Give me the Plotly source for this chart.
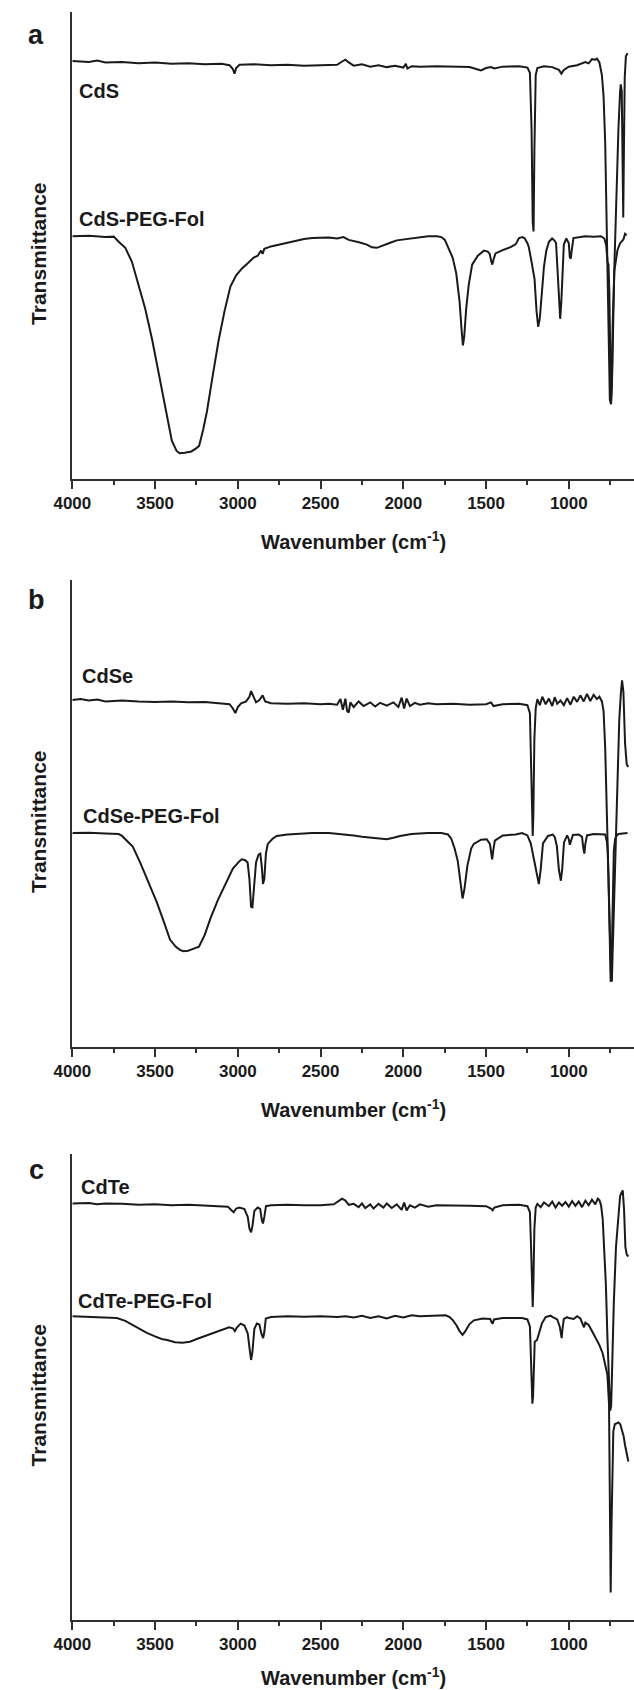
import plotly.graph_objects as go

W, H = 634, 1690

# ---------------- data (wavenumber cm-1, relative transmittance 0-100 within panel) ----------------
cds = [(4000,89.5),(3900,89.3),(3850,89.6),(3800,89.2),(3700,89.3),(3600,89.0),(3500,89.2),(3400,88.9),
       (3300,89.0),(3200,88.8),(3100,88.9),(3050,88.6),(3030,87.8),(3020,86.8),(3010,88.0),(2990,88.7),
       (2900,88.8),(2800,88.6),(2700,88.7),(2600,88.5),(2500,88.6),(2400,88.7),(2370,89.4),(2350,89.8),
       (2330,89.2),(2300,88.5),(2250,88.8),(2200,88.3),(2150,88.6),(2100,88.2),(2050,88.5),(2000,88.1),
       (1985,88.9),(1975,87.9),(1950,88.4),(1900,88.3),(1800,88.4),(1700,88.3),(1600,88.2),(1560,87.8),
       (1530,87.5),(1500,88.0),(1470,88.2),(1450,87.9),(1400,88.3),(1300,88.4),(1250,88.1),(1235,87.0),
       (1225,75),(1218,55),(1213,53),(1208,70),(1200,86.5),(1190,88.0),(1150,88.4),(1100,88.2),
       (1060,87.6),(1045,86.8),(1030,87.6),(1000,88.3),(950,88.6),(900,89.3),(880,89.0),(860,89.9),
       (840,89.8),(830,90.0),(815,89.2),(800,86.5),(790,82),(780,72),(770,50),(760,28),(752,17),
       (745,16),(738,22),(725,45),(710,65),(700,75),(690,83),(686,84.5),(680,83),(676,70),(671,56),
       (667,70),(662,86),(655,90.5),(645,91.2)]

cds_peg = [(4000,52.0),(3900,52.1),(3800,51.8),(3750,51.9),(3720,50.8),(3680,49.5),(3640,46.5),(3610,42.8),
       (3560,36.5),(3517,29.7),(3480,23.0),(3446,16.7),(3420,11.5),(3399,8.2),(3370,6.0),(3352,5.5),
       (3320,5.6),(3281,5.9),(3250,6.6),(3234,7.1),(3210,10.5),(3187,14.4),(3150,22.5),(3116,29.7),
       (3080,36.0),(3045,41.2),(3010,43.6),(2975,45.1),(2940,46.2),(2904,47.4),(2880,47.8),(2860,48.9),
       (2850,48.2),(2840,49.3),(2800,49.8),(2750,50.2),(2715,50.5),(2650,51.0),(2600,51.4),(2550,51.6),
       (2450,51.7),(2400,51.5),(2362,51.8),(2330,51.2),(2300,51.0),(2268,50.7),(2220,50.2),(2190,49.6),
       (2160,49.5),(2140,49.8),(2100,50.3),(2079,50.6),(2040,51.1),(2000,51.3),(1961,51.6),(1900,51.8),
       (1850,52.0),(1796,52.0),(1770,51.8),(1749,51.2),(1720,49.0),(1702,47.4),(1680,44),(1660,38),
       (1648,32),(1640,28.6),(1632,30.5),(1620,36.5),(1605,41.5),(1584,45.9),(1550,47.8),(1513,48.9),
       (1490,48.7),(1478,48.2),(1468,46.5),(1462,45.9),(1455,47.0),(1443,48.3),(1400,49.0),(1349,49.7),
       (1320,50.3),(1301,51.6),(1280,51.8),(1266,51.5),(1250,50.5),(1242,49.7),(1225,46.5),(1207,42.8),
       (1195,36),(1185,32.6),(1175,34.5),(1165,39.5),(1150,45.5),(1136,48.9),(1120,50.8),(1101,51.5),
       (1085,51.0),(1077,50.5),(1068,45),(1060,38),(1052,34.3),(1045,38),(1038,46),(1030,50.2),
       (1015,51.5),(1000,50.5),(994,47.5),(988,47.2),(982,49),(972,51.6),(930,51.8),(900,52.0),
       (850,51.9),(806,52.0),(785,51.5),(774,50.0),(766,46.5),(760,45.9),(755,40),(750,28),(745,16.1),
       (740,20),(735,33),(725,44.5),(715,47.5),(706,49.0),(690,50.5),(670,51.3),(660,52.5),(650,52.2)]

cdse = [(4000,74.3),(3950,74.5),(3900,74.2),(3850,74.4),(3800,74.0),(3700,74.2),(3600,74.0),(3500,73.9),
       (3400,74.0),(3300,73.8),(3200,73.9),(3100,73.6),(3050,73.4),(3030,72.5),(3015,71.5),(3000,72.8),
       (2980,73.6),(2950,74.0),(2930,75.0),(2920,76.2),(2905,74.8),(2890,73.8),(2870,74.3),(2850,75.3),
       (2835,74.0),(2800,73.6),(2700,73.5),(2600,73.6),(2500,73.4),(2450,73.5),(2400,73.3),(2380,74.5),
       (2365,72.2),(2350,74.6),(2340,72.0),(2330,71.6),(2320,73.8),(2300,72.8),(2270,74.0),(2240,73.0),
       (2200,73.8),(2170,72.9),(2140,73.7),(2100,73.1),(2060,73.8),(2030,72.8),(2010,74.8),(1995,72.5),
       (1980,74.6),(1960,73.0),(1930,73.7),(1900,73.3),(1850,73.6),(1800,73.4),(1700,73.5),(1600,73.3),
       (1500,73.4),(1470,73.8),(1455,73.0),(1400,73.4),(1300,73.5),(1250,73.2),(1235,71.5),(1228,62),
       (1222,48),(1218,45.2),(1214,50),(1208,66),(1200,72.5),(1190,74.5),(1175,73.2),(1160,75.0),
       (1140,73.4),(1120,74.6),(1100,73.0),(1085,74.9),(1070,73.5),(1050,74.2),(1030,73.2),(1010,74.7),
       (990,73.3),(970,75.0),(950,73.9),(930,75.3),(910,74.0),(890,75.6),(870,74.1),(850,75.4),
       (830,74.5),(815,75.0),(800,74.0),(790,72),(780,64),(770,50),(760,34),(752,22),(745,15),(740,14),
       (735,20),(725,35),(710,55),(695,70),(685,76),(678,78.5),(670,76),(660,65),(650,60.5),(640,60)]

cdse_peg = [(4000,45.8),(3900,45.9),(3800,45.7),(3720,45.6),(3700,45.2),(3670,44.2),(3635,42.9),(3590,39.5),
       (3541,35.2),(3490,31.0),(3447,26.8),(3410,23.0),(3376,21.5),(3350,20.8),(3329,20.5),(3300,20.6),
       (3270,21.0),(3235,21.5),(3200,24.0),(3165,27.6),(3120,31.5),(3071,35.2),(3030,38.2),(2990,39.8),
       (2976,40.2),(2955,40.0),(2941,39.5),(2930,36.0),(2920,30.0),(2912,29.9),(2905,33.5),(2890,39.5),
       (2875,41.2),(2864,41.4),(2855,38.5),(2848,34.9),(2840,36.0),(2830,41.5),(2819,43.5),(2790,44.6),
       (2765,45.2),(2700,45.5),(2600,45.7),(2553,45.8),(2450,45.8),(2350,45.5),(2300,45.3),(2250,45.0),
       (2200,44.8),(2150,44.6),(2100,44.5),(2060,44.8),(2020,45.2),(1950,45.6),(1850,45.8),(1770,45.8),
       (1730,45.5),(1710,44.6),(1690,42.5),(1671,39.8),(1655,35.5),(1642,31.8),(1630,34),(1613,38.8),
       (1590,42.5),(1574,43.5),(1530,44.4),(1496,44.5),(1477,43.5),(1468,41.5),(1463,40.2),(1455,42.5),
       (1447,44.2),(1399,45.3),(1321,45.5),(1282,45.8),(1250,45.3),(1230,43.6),(1215,41.0),(1204,38.5),
       (1190,36),(1181,34.9),(1170,38),(1156,43.6),(1126,45.2),(1097,45.5),(1085,45.0),(1072,43),
       (1060,38),(1048,35.6),(1040,38),(1029,43.8),(1010,45.3),(1000,44.5),(994,43.3),(985,44.5),
       (975,45.4),(940,45.5),(920,45.0),(912,42.5),(906,41.4),(900,43.5),(890,45.3),(850,45.6),
       (800,45.6),(780,45.5),(770,44),(765,42),(760,36),(752,20),(747,14),(742,17),(735,33),(728,42),
       (720,44.6),(710,45.3),(700,45.6),(680,45.7),(660,45.8),(645,45.8)]

cdte = [(4000,89.4),(3900,89.5),(3850,89.2),(3800,89.4),(3700,89.3),(3600,89.1),(3500,89.2),(3400,89.0),
       (3300,89.1),(3200,89.0),(3100,88.9),(3060,88.7),(3040,88.0),(3025,87.5),(3010,88.3),(2990,88.5),
       (2960,88.2),(2940,86.5),(2930,84.0),(2920,83.2),(2912,84.5),(2900,87.8),(2880,88.5),(2865,88.2),
       (2855,85.8),(2848,85.1),(2840,86.5),(2830,88.8),(2800,89.0),(2700,89.1),(2600,89.0),(2500,89.0),
       (2420,89.2),(2390,90.0),(2370,90.4),(2350,90.0),(2330,89.1),(2300,89.3),(2270,88.6),(2250,89.4),
       (2230,88.4),(2200,89.2),(2180,88.3),(2150,89.3),(2120,88.5),(2100,89.4),(2070,88.4),(2040,89.2),
       (2010,88.0),(1995,89.6),(1980,87.9),(1960,89.0),(1930,88.5),(1900,89.2),(1850,88.7),(1800,89.0),
       (1700,89.0),(1600,88.9),(1500,88.8),(1470,88.3),(1460,87.9),(1450,88.5),(1400,89.0),(1300,89.1),
       (1250,88.8),(1235,87.5),(1228,80),(1222,70),(1218,67.2),(1214,72),(1208,84),(1200,88.5),
       (1190,89.3),(1170,88.6),(1150,89.6),(1120,88.8),(1100,89.8),(1080,88.5),(1060,89.6),(1040,88.9),
       (1020,89.7),(1000,88.7),(980,89.9),(960,88.9),(940,89.8),(920,88.6),(900,90.0),(880,89.0),
       (860,90.2),(840,89.2),(825,90.4),(815,90.1),(805,89.0),(795,86),(785,80),(776,72),(766,60),
       (758,50),(750,44.9),(744,46),(738,55),(728,68),(715,80),(700,88),(690,91),(680,91.8),(674,92.2),
       (666,88),(658,80),(650,78.4),(640,78)]

cdte_peg = [(4000,65.2),(3900,65.1),(3800,65.0),(3731,64.8),(3680,64.2),(3614,62.8),(3550,61.6),(3497,60.8),
       (3460,60.3),(3427,60.1),(3380,59.6),(3334,59.5),(3290,59.7),(3240,60.4),(3190,61.0),(3147,61.6),
       (3100,62.2),(3053,62.8),(3030,62.6),(3018,62.0),(3005,62.8),(2983,63.6),(2960,63.2),(2940,61.5),
       (2930,58.5),(2920,55.8),(2912,57.5),(2900,62.5),(2885,63.6),(2870,63.4),(2858,61.5),(2847,60.5),
       (2840,61.8),(2831,64.7),(2800,65.0),(2700,65.2),(2600,65.1),(2500,65.2),(2400,65.0),(2350,65.2),
       (2300,64.9),(2250,65.3),(2200,64.8),(2150,65.2),(2100,64.7),(2050,65.3),(2000,64.9),(1950,65.4),
       (1900,65.2),(1800,65.4),(1744,65.4),(1720,65.0),(1700,64.3),(1680,63.3),(1660,62.0),(1642,61.2),
       (1625,62.0),(1600,63.5),(1574,64.3),(1520,64.7),(1475,64.6),(1465,63.8),(1460,63.6),(1452,64.5),
       (1400,64.8),(1282,64.8),(1250,64.5),(1235,63.0),(1228,55),(1222,48),(1220,46.4),(1216,48),
       (1212,55),(1206,59.7),(1192,60.1),(1175,62.5),(1163,63.6),(1140,65.0),(1110,65.3),(1097,65.0),
       (1070,64.5),(1055,63.0),(1048,61.0),(1043,60.5),(1038,62.5),(1030,64.6),(1010,65.0),(1000,64.8),
       (970,64.6),(950,65.2),(930,64.7),(915,63.5),(908,62.8),(900,63.8),(880,63.3),(860,62.0),
       (835,60.5),(815,59.0),(796,57.3),(780,55.0),(767,52.7),(757,46.4),(752,30),(747,5.9),(742,20),
       (737,35),(731,40.5),(722,42.0),(709,42.2),(700,42.4),(689,42.0),(680,41.0),(669,39.5),
       (660,37.5),(650,35.5),(640,34)]

tick_vals = [4000, 3500, 3000, 2500, 2000, 1500, 1000]
tick_text = ["4000", "3500", "3000", "2500", "2000", "1500", "1000"]
minor_vals = [3750, 3250, 2750, 2250, 1750, 1250, 750]

panel_letters = ["a", "b", "c"]
series_names = [("CdS", "CdS-PEG-Fol"), ("CdSe", "CdSe-PEG-Fol"), ("CdTe", "CdTe-PEG-Fol")]
series_data = [(cds, cds_peg), (cdse, cdse_peg), (cdte, cdte_peg)]

# ---------------- layout geometry (pixels) ----------------
FONT = "Arial, 'Liberation Sans', Helvetica, sans-serif"
INK = "#1a1a1a"
AX = "#303030"
x_left = 55
panel_top = [12, 580, 1154]
panel_bot = [479, 1047, 1620]
xtitle_y = [540, 1108, 1676]
label_pos = [((60, 91), (60, 219)), ((63, 676), (64, 816)), ((62, 1187), (59, 1301))]
letter_y = [35, 600, 1170]


def px(x):
    return x / W


def py(y):
    return 1 - y / H


fig = go.Figure()
annotations = []
for i in range(3):
    sfx = "" if i == 0 else str(i + 1)
    xa, ya = "x" + sfx, "y" + sfx
    for pts in series_data[i]:
        wn = [p[0] for p in pts]
        tv = [p[1] for p in pts]
        fig.add_trace(go.Scatter(x=wn, y=tv, mode="lines", xaxis=xa, yaxis=ya,
                                 line=dict(color=INK, width=2.0), showlegend=False,
                                 hoverinfo="skip"))
    fig.layout["xaxis" + sfx] = dict(
        domain=[px(x_left), 1.0], anchor=ya, range=[4000, 606], autorange=False,
        showline=True, linewidth=2, linecolor=AX, showgrid=False, zeroline=False,
        ticks="outside", ticklen=8, tickwidth=2, tickcolor=AX,
        tickmode="array", tickvals=tick_vals, ticktext=tick_text,
        tickfont=dict(family=FONT, size=17, color=INK, weight="bold"),
        minor=dict(tickvals=minor_vals, ticks="outside", ticklen=4, tickwidth=2, tickcolor=AX),
    )
    fig.layout["yaxis" + sfx] = dict(
        domain=[py(panel_bot[i]), py(panel_top[i])], anchor=xa, range=[0, 100], autorange=False,
        showline=True, linewidth=2, linecolor=AX, showgrid=False, zeroline=False,
        showticklabels=False, ticks="",
    )
    annotations.append(dict(text=panel_letters[i], x=px(18), y=py(letter_y[i]), xref="paper", yref="paper",
                            showarrow=False, xanchor="center", yanchor="middle",
                            font=dict(family=FONT, size=27, color=INK, weight="bold")))
    annotations.append(dict(text="Transmittance", x=px(20), y=py((panel_top[i] + panel_bot[i]) / 2 + 8),
                            xref="paper", yref="paper", textangle=-90, showarrow=False,
                            xanchor="center", yanchor="middle",
                            font=dict(family=FONT, size=21, color=INK, weight="bold")))
    annotations.append(dict(text="Wavenumber (cm<sup>-1</sup>)", x=px(345), y=py(xtitle_y[i]),
                            xref="paper", yref="paper", showarrow=False,
                            xanchor="center", yanchor="middle",
                            font=dict(family=FONT, size=20, color=INK, weight="bold")))
    for name, (lx, ly) in zip(series_names[i], label_pos[i]):
        annotations.append(dict(text=name, x=px(lx), y=py(ly), xref="paper", yref="paper",
                                showarrow=False, xanchor="left", yanchor="middle",
                                font=dict(family=FONT, size=20, color=INK, weight="bold")))

fig.update_layout(width=W, height=H, margin=dict(l=0, r=0, t=0, b=0),
                  paper_bgcolor="white", plot_bgcolor="white", annotations=annotations)

fig.write_html("out.html", config={"displayModeBar": False},
               post_script="document.body.style.margin='0';document.body.style.padding='0';"
                           "document.body.style.overflow='hidden';")
